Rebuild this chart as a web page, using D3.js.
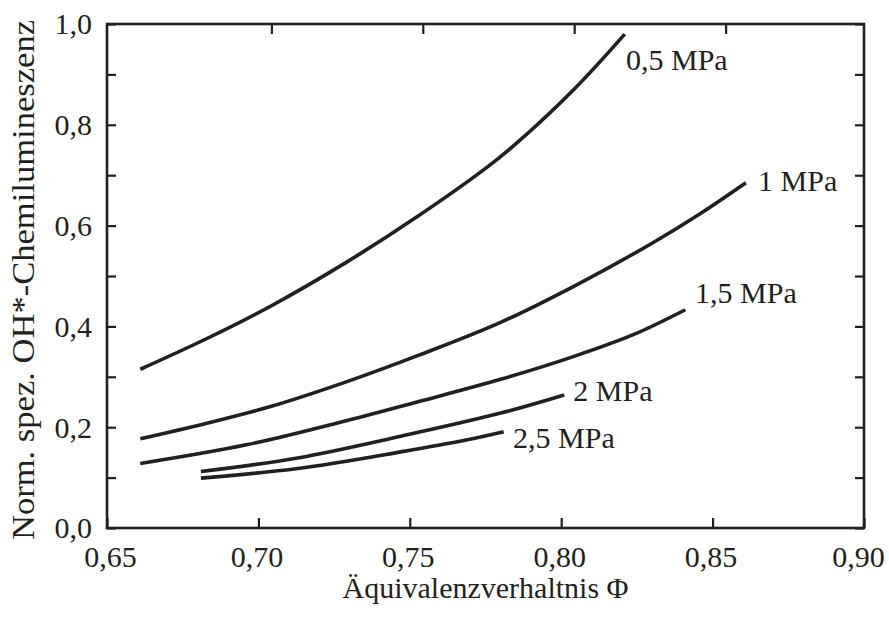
<!DOCTYPE html>
<html>
<head>
<meta charset="utf-8">
<script src="https://cdn.jsdelivr.net/npm/d3@7"></script>
<style>
  body { margin: 0; background: #fff; }
  text { font-family: "Liberation Serif", "Times New Roman", serif; fill: #231f20; }
</style>
</head>
<body>
<svg></svg>
<script>
// data
var pressures = ["0,5 MPa", "1 MPa", "1,5 MPa", "2 MPa", "2,5 MPa"];

var phi05 = [0.661, 0.683, 0.704, 0.729, 0.753, 0.776, 0.785, 0.804, 0.821];
var oh05  = [0.315, 0.376, 0.440, 0.527, 0.620, 0.718, 0.762, 0.869, 0.980];

var phi10 = [0.661, 0.683, 0.704, 0.729, 0.753, 0.780, 0.804, 0.830, 0.846, 0.861];
var oh10  = [0.177, 0.208, 0.241, 0.290, 0.343, 0.408, 0.479, 0.565, 0.624, 0.685];

var phi15 = [0.661, 0.696, 0.729, 0.753, 0.780, 0.804, 0.824, 0.841];
var oh15  = [0.128, 0.165, 0.213, 0.251, 0.295, 0.340, 0.384, 0.433];

var phi20 = [0.681, 0.713, 0.747, 0.780, 0.801];
var oh20  = [0.112, 0.139, 0.182, 0.228, 0.264];

var phi25 = [0.681, 0.713, 0.747, 0.769, 0.781];
var oh25  = [0.099, 0.118, 0.151, 0.175, 0.191];

// where the curve labels sit, in data units
var labelPhi = [0.8214, 0.8650, 0.8442, 0.8040, 0.7841];
var labelOh  = [0.9087, 0.6692, 0.4470, 0.2520, 0.1592];

var xTicks = [0.65, 0.70, 0.75, 0.80, 0.85, 0.90];
var yTicks = [0.0, 0.2, 0.4, 0.6, 0.8, 1.0];
var yMinor = [0.1, 0.3, 0.5, 0.7, 0.9];

var series = [
  {phi: phi05, oh: oh05},
  {phi: phi10, oh: oh10},
  {phi: phi15, oh: oh15},
  {phi: phi20, oh: oh20},
  {phi: phi25, oh: oh25}
];

// set the dimensions and margins of the graph
var margin = {top: 24, right: 25, bottom: 90, left: 107},
    width = 889 - margin.left - margin.right,
    height = 618 - margin.top - margin.bottom;

var svg = d3.select("svg")
    .attr("width", 889)
    .attr("height", 618)
    .append("g")
    .attr("transform", "translate(" + margin.left + "," + margin.top + ")");

var x = d3.scaleLinear().domain([0.65, 0.90]).range([0, width]);
var y = d3.scaleLinear().domain([0, 1]).range([height, 0]);

var fmt = function(d, n) { return d.toFixed(n).replace(".", ","); };
var ink = "#231f20";

// bottom axis with labels
var gx = svg.append("g")
    .attr("transform", "translate(0," + height + ")")
    .call(d3.axisBottom(x).tickValues(xTicks).tickSize(-10).tickPadding(18)
      .tickFormat(function(d) { return fmt(d, 2); }));

// top ticks (slightly shifted in the original scan)
var xTop = x.copy().range([13, width + 13]);
var gt = svg.append("g")
    .call(d3.axisTop(xTop).tickValues(xTicks.slice(1, 5)).tickSize(-10).tickFormat(""));

// left axis with labels, minor ticks
var gy = svg.append("g")
    .call(d3.axisLeft(y).tickValues(yTicks).tickSize(-9).tickPadding(15)
      .tickFormat(function(d) { return fmt(d, 1); }));
var gym = svg.append("g")
    .call(d3.axisLeft(y).tickValues(yMinor).tickSize(-9).tickFormat(""));

// right ticks
var gr = svg.append("g")
    .attr("transform", "translate(" + width + ",0)")
    .call(d3.axisRight(y).tickValues(yTicks.concat(yMinor)).tickSize(-9).tickFormat(""));

[gx, gt, gy, gym, gr].forEach(function(g) {
  g.select(".domain").remove();
  g.selectAll("line").attr("stroke", ink).attr("stroke-width", 2.2);
  g.selectAll("text").attr("font-size", 30).attr("font-family", "Liberation Serif").attr("fill", ink);
});
gx.selectAll("text").attr("dy", "0.71em")
    .attr("dx", function(d) { return d > 0.89 ? -6 : (d < 0.66 ? 3 : -2); });
gy.selectAll("text").attr("dy", "0.33em");

// frame
svg.append("rect")
    .attr("width", width)
    .attr("height", height)
    .attr("fill", "none")
    .attr("stroke", ink)
    .attr("stroke-width", 2.6);

// curves
var line = d3.line()
    .x(function(d) { return x(d[0]); })
    .y(function(d) { return y(d[1]); })
    .curve(d3.curveCatmullRom.alpha(0.5));

svg.append("g")
  .selectAll("path")
  .data(series)
  .enter()
  .append("path")
    .attr("d", function(s) { return line(d3.zip(s.phi, s.oh)); })
    .attr("fill", "none")
    .attr("stroke", ink)
    .attr("stroke-width", 3.6);

// curve labels
svg.append("g")
  .selectAll("text")
  .data(pressures)
  .enter()
  .append("text")
    .attr("x", function(d, i) { return x(labelPhi[i]); })
    .attr("y", function(d, i) { return y(labelOh[i]); })
    .attr("font-size", 30)
    .text(function(d) { return d; });

// axis titles
svg.append("text")
    .attr("x", width / 2)
    .attr("y", height + 70)
    .attr("text-anchor", "middle")
    .attr("font-size", 30)
    .text("Äquivalenzverhaltnis Φ");

svg.append("text")
    .attr("transform", "translate(" + (34 - margin.left) + "," + (280 - margin.top) + ") rotate(-90)")
    .attr("text-anchor", "middle")
    .attr("font-size", 31)
    .attr("textLength", 520)
    .attr("lengthAdjust", "spacingAndGlyphs")
    .text("Norm. spez. OH*-Chemilumineszenz");
</script>
</body>
</html>
